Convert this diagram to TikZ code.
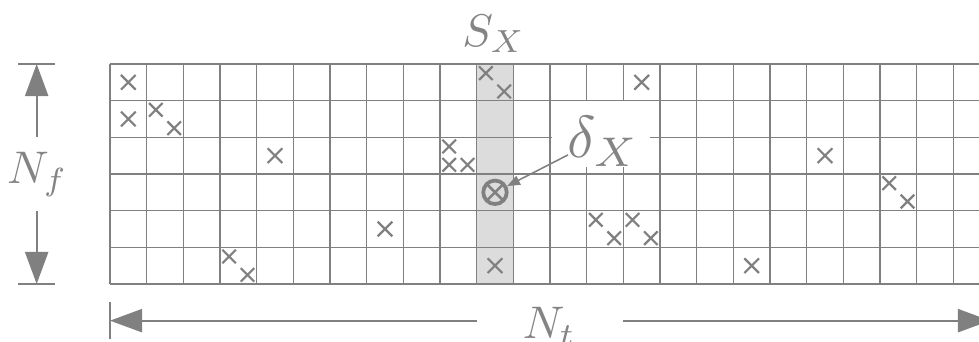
\documentclass[tikz,border=0pt]{standalone}
\usepackage{graphicx}
\usetikzlibrary{arrows.meta}
\definecolor{lgray}{RGB}{128,128,128}
\definecolor{tgray}{RGB}{132,132,132}
\definecolor{shadegray}{RGB}{220,220,220}
\newcommand{\biglab}[2]{\scalebox{#1}{#2}}
\tikzset{
  gridline/.style={draw=lgray, line width=1.25pt},
  xmark/.style={draw=lgray, line width=1.7pt},
  dimline/.style={draw=lgray, line width=1.6pt},
  dimarrow/.style={dimline, -{Triangle[length=25pt,width=18pt]}},
  lab/.style={text=tgray, inner sep=0pt, font=\fontsize{10}{12}\selectfont},
  whitebox/.style={fill=white, draw=none, inner sep=0pt, minimum width=2.68cm, minimum height=1.8cm},
  otimesnode/.style={circle, draw=lgray, line width=2.9pt, minimum size=0.64cm, inner sep=0pt,
    path picture={\draw[lgray, line width=2pt] (path picture bounding box.south west) -- (path picture bounding box.north east)
      (path picture bounding box.north west) -- (path picture bounding box.south east);}},
  pointer/.style={draw=lgray, line width=1.2pt, -{Triangle[length=10pt,width=7.5pt]}},
  xm/.pic={\draw[xmark] (-0.2,-0.2) -- (0.2,0.2) (-0.2,0.2) -- (0.2,-0.2);},
  xs/.pic={\draw[xmark] (-0.185,-0.185) -- (0.185,0.185) (-0.185,0.185) -- (0.185,-0.185);}
}
\begin{document}
\begin{tikzpicture}[x=1cm,y=1cm]
\useasboundingbox (-3,-1.582) rectangle (23.70,7.745);
\clip (-3,-1.582) rectangle (23.70,7.745);
% shaded column S_X
\fill[shadegray] (10,0) rectangle (11,6);
% grid
\draw[gridline] (0,0) grid (24,6);
% crosses (centred)
\foreach \p in {(0.5,5.5),(0.5,4.5),(4.5,3.5),(14.5,5.5),(7.5,1.5),(10.5,0.5),(19.5,3.5),(17.5,0.5)}
  \pic at \p {xm};
% crosses (quarter positions)
\foreach \p in {(1.25,4.75),(1.75,4.25),(3.25,0.75),(3.75,0.25),(10.25,5.75),(10.75,5.25),
  (9.25,3.75),(9.25,3.25),(9.75,3.25),(13.25,1.75),(13.75,1.25),(14.25,1.75),(14.75,1.25),
  (21.25,2.75),(21.75,2.25)}
  \pic at \p {xs};
% delta label box
\node[whitebox] (dbox) at (13.39,4.09) {};
\node[lab, anchor=base] (dx) at (13.45,3.45) {\biglab{4.6}{$\delta_X$}};
% otimes
\node[otimesnode] (ot) at (10.5,2.5) {};
\coordinate (ds) at (12.49,3.52);
\draw[pointer] (ds) -- (ot);
% S_X label
\node[lab, anchor=base] (sx) at (10.47,6.49) {\biglab{3.55}{$S_X$}};
% N_f dimension
\node[lab, anchor=base] (nf) at (-1.98,2.75) {\biglab{3.55}{$N_f$}};
\coordinate (nfA) at (-2,4);
\coordinate (nfTop) at (-2,6);
\coordinate (nfB) at (-2,2);
\coordinate (nfBot) at (-2,0);
\coordinate (nfT1) at (-2.5,6);
\coordinate (nfT2) at (-1.5,6);
\coordinate (nfB1) at (-2.5,0);
\coordinate (nfB2) at (-1.5,0);
\draw[dimline] (nfT1) -- (nfT2);
\draw[dimline] (nfB1) -- (nfB2);
\draw[dimarrow] (nfA) -- (nfTop);
\draw[dimarrow] (nfB) -- (nfBot);
% N_t dimension
\node[lab, anchor=base] (nt) at (11.98,-1.48) {\biglab{3.55}{$N_t$}};
\coordinate (ntA) at (10,-1);
\coordinate (ntL) at (0,-1);
\coordinate (ntB) at (14,-1);
\coordinate (ntR) at (24,-1);
\coordinate (ntL1) at (0,-0.5);
\coordinate (ntL2) at (0,-1.5);
\coordinate (ntR1) at (24,-0.5);
\coordinate (ntR2) at (24,-1.5);
\draw[dimline] (ntL1) -- (ntL2);
\draw[dimline] (ntR1) -- (ntR2);
\draw[dimarrow] (ntA) -- (ntL);
\draw[dimarrow] (ntB) -- (ntR);
\end{tikzpicture}
\end{document}
